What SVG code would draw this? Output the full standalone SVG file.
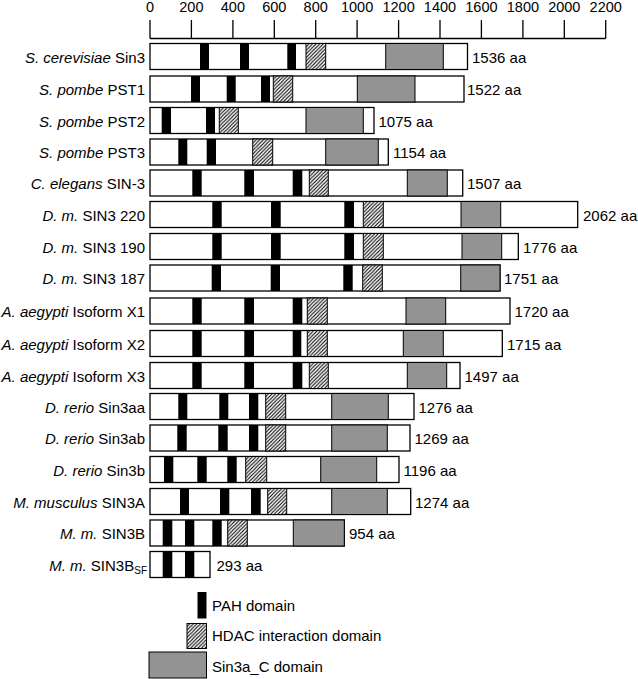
<svg xmlns="http://www.w3.org/2000/svg" width="638" height="679" viewBox="0 0 638 679">
<defs>
<pattern id="hatch" patternUnits="userSpaceOnUse" width="3.6" height="3.6">
<rect width="3.6" height="3.6" fill="#fff"/>
<path d="M-0.9,0.9 l1.8,-1.8 M0,3.6 l3.6,-3.6 M2.7,4.5 l1.8,-1.8" stroke="#000" stroke-width="1.1"/>
</pattern>
</defs>
<style>
text{font-family:"Liberation Sans",Arial,sans-serif;font-size:15px;fill:#000}
.lab{text-anchor:end}
.it{font-style:italic}
.box{fill:#fff;stroke:#000;stroke-width:1.3}
.pah{fill:#000}
.hdac{fill:url(#hatch);stroke:#000;stroke-width:1}
.sin{fill:#939393;stroke:#000;stroke-width:1}
.axis{stroke:#000;stroke-width:1.3;fill:none}
.tick{text-anchor:middle;font-size:14.5px}
</style>

<g id="axis">
<path class="axis" d="M150,38.5 H605.7 M150,20 V38.5 M191.4,20 V38.5 M232.9,20 V38.5 M274.3,20 V38.5 M315.7,20 V38.5 M357.1,20 V38.5 M398.6,20 V38.5 M440,20 V38.5 M481.4,20 V38.5 M522.9,20 V38.5 M564.3,20 V38.5 M605.7,20 V38.5"/>
<text class="tick" x="150" y="12">0</text>
<text class="tick" x="191.4" y="12">200</text>
<text class="tick" x="232.9" y="12">400</text>
<text class="tick" x="274.3" y="12">600</text>
<text class="tick" x="315.7" y="12">800</text>
<text class="tick" x="357.1" y="12">1000</text>
<text class="tick" x="398.6" y="12">1200</text>
<text class="tick" x="440" y="12">1400</text>
<text class="tick" x="481.4" y="12">1600</text>
<text class="tick" x="522.9" y="12">1800</text>
<text class="tick" x="564.3" y="12">2000</text>
<text class="tick" x="605.7" y="12">2200</text>
</g>

<g id="connectors"></g>

<g id="row1">
<text class="lab" x="145" y="62.5"><tspan class="it">S. cerevisiae</tspan> Sin3</text>
<rect class="box" x="150" y="43.5" width="317.5" height="26"/>
<rect class="pah" x="200" y="43.5" width="9" height="26"/>
<rect class="pah" x="240" y="43.5" width="9" height="26"/>
<rect class="pah" x="287.3" y="43.5" width="8.7" height="26"/>
<rect class="hdac" x="306" y="43.5" width="19.7" height="26"/>
<rect class="sin" x="385.7" y="43.5" width="57.6" height="26"/>
<text x="472" y="62.5">1536 aa</text>
</g>

<g id="row2">
<text class="lab" x="145" y="95"><tspan class="it">S. pombe</tspan> PST1</text>
<rect class="box" x="150" y="76" width="314" height="26"/>
<rect class="pah" x="191" y="76" width="9" height="26"/>
<rect class="pah" x="226.7" y="76" width="9" height="26"/>
<rect class="pah" x="261" y="76" width="9" height="26"/>
<rect class="hdac" x="273.3" y="76" width="19.4" height="26"/>
<rect class="sin" x="357.3" y="76" width="57.7" height="26"/>
<text x="467" y="95">1522 aa</text>
</g>

<g id="row3">
<text class="lab" x="145" y="126.5"><tspan class="it">S. pombe</tspan> PST2</text>
<rect class="box" x="150" y="107.5" width="224" height="26"/>
<rect class="pah" x="161.7" y="107.5" width="9.3" height="26"/>
<rect class="pah" x="206" y="107.5" width="9" height="26"/>
<rect class="hdac" x="219.3" y="107.5" width="19" height="26"/>
<rect class="sin" x="306" y="107.5" width="57.3" height="26"/>
<text x="378.5" y="126.5">1075 aa</text>
</g>

<g id="row4">
<text class="lab" x="145" y="158"><tspan class="it">S. pombe</tspan> PST3</text>
<rect class="box" x="150" y="139" width="238.3" height="26"/>
<rect class="pah" x="178.3" y="139" width="9" height="26"/>
<rect class="pah" x="206.7" y="139" width="9.3" height="26"/>
<rect class="hdac" x="252.7" y="139" width="20" height="26"/>
<rect class="sin" x="325.7" y="139" width="52.6" height="26"/>
<text x="393" y="158">1154 aa</text>
</g>

<g id="row5">
<text class="lab" x="145" y="189"><tspan class="it">C. elegans</tspan> SIN-3</text>
<rect class="box" x="150" y="170" width="312.7" height="26"/>
<rect class="pah" x="192.3" y="170" width="9.4" height="26"/>
<rect class="pah" x="244.3" y="170" width="9.7" height="26"/>
<rect class="pah" x="292.7" y="170" width="9.6" height="26"/>
<rect class="hdac" x="309.3" y="170" width="19" height="26"/>
<rect class="sin" x="407.3" y="170" width="40" height="26"/>
<text x="467" y="189">1507 aa</text>
</g>

<g id="row6">
<text class="lab" x="145" y="220.5"><tspan class="it">D. m.</tspan> SIN3 220</text>
<rect class="box" x="150" y="201.5" width="427.7" height="26"/>
<rect class="pah" x="212.3" y="201.5" width="9.4" height="26"/>
<rect class="pah" x="271" y="201.5" width="9.7" height="26"/>
<rect class="pah" x="344.3" y="201.5" width="9.7" height="26"/>
<rect class="hdac" x="363.3" y="201.5" width="20" height="26"/>
<rect class="sin" x="461" y="201.5" width="39.7" height="26"/>
<text x="583" y="220.5">2062 aa</text>
</g>

<g id="row7">
<text class="lab" x="145" y="252.5"><tspan class="it">D. m.</tspan> SIN3 190</text>
<rect class="box" x="150" y="233.5" width="368.3" height="26"/>
<rect class="pah" x="212.3" y="233.5" width="9.4" height="26"/>
<rect class="pah" x="271" y="233.5" width="9.7" height="26"/>
<rect class="pah" x="344.3" y="233.5" width="9.7" height="26"/>
<rect class="hdac" x="363.3" y="233.5" width="20" height="26"/>
<rect class="sin" x="462" y="233.5" width="39.7" height="26"/>
<text x="523" y="252.5">1776 aa</text>
</g>

<g id="row8">
<text class="lab" x="145" y="284"><tspan class="it">D. m.</tspan> SIN3 187</text>
<rect class="box" x="150" y="265" width="350" height="26"/>
<rect class="pah" x="211.7" y="265" width="9.3" height="26"/>
<rect class="pah" x="270.7" y="265" width="9.3" height="26"/>
<rect class="pah" x="343.3" y="265" width="9.4" height="26"/>
<rect class="hdac" x="362.7" y="265" width="19.6" height="26"/>
<rect class="sin" x="460.7" y="265" width="39.3" height="26"/>
<text x="504" y="284">1751 aa</text>
</g>

<g id="row9">
<text class="lab" x="145" y="317"><tspan class="it">A. aegypti</tspan> Isoform X1</text>
<rect class="box" x="150" y="298" width="360" height="26"/>
<rect class="pah" x="192.3" y="298" width="9.4" height="26"/>
<rect class="pah" x="244.3" y="298" width="9.7" height="26"/>
<rect class="pah" x="292.7" y="298" width="9.6" height="26"/>
<rect class="hdac" x="307.3" y="298" width="20" height="26"/>
<rect class="sin" x="406" y="298" width="39.7" height="26"/>
<text x="514.5" y="317">1720 aa</text>
</g>

<g id="row10">
<text class="lab" x="145" y="349.5"><tspan class="it">A. aegypti</tspan> Isoform X2</text>
<rect class="box" x="150" y="330.5" width="352.3" height="26"/>
<rect class="pah" x="192.3" y="330.5" width="9.4" height="26"/>
<rect class="pah" x="244.3" y="330.5" width="9.7" height="26"/>
<rect class="pah" x="292.7" y="330.5" width="8.6" height="26"/>
<rect class="hdac" x="307.3" y="330.5" width="20" height="26"/>
<rect class="sin" x="403.3" y="330.5" width="40" height="26"/>
<text x="507" y="349.5">1715 aa</text>
</g>

<g id="row11">
<text class="lab" x="145" y="381.5"><tspan class="it">A. aegypti</tspan> Isoform X3</text>
<rect class="box" x="150" y="362.5" width="310" height="26"/>
<rect class="pah" x="192.3" y="362.5" width="9.4" height="26"/>
<rect class="pah" x="244.3" y="362.5" width="9.7" height="26"/>
<rect class="pah" x="292.7" y="362.5" width="9.6" height="26"/>
<rect class="hdac" x="309.3" y="362.5" width="19" height="26"/>
<rect class="sin" x="407.3" y="362.5" width="39.4" height="26"/>
<text x="464.5" y="381.5">1497 aa</text>
</g>

<g id="row12">
<text class="lab" x="145" y="412.5"><tspan class="it">D. rerio</tspan> Sin3aa</text>
<rect class="box" x="150" y="393.5" width="264" height="26"/>
<rect class="pah" x="178.3" y="393.5" width="9" height="26"/>
<rect class="pah" x="219.3" y="393.5" width="9" height="26"/>
<rect class="pah" x="249" y="393.5" width="9.3" height="26"/>
<rect class="hdac" x="265.7" y="393.5" width="20" height="26"/>
<rect class="sin" x="331.7" y="393.5" width="56.6" height="26"/>
<text x="418.5" y="412.5">1276 aa</text>
</g>

<g id="row13">
<text class="lab" x="145" y="444"><tspan class="it">D. rerio</tspan> Sin3ab</text>
<rect class="box" x="150" y="425" width="260" height="26"/>
<rect class="pah" x="177.3" y="425" width="9.4" height="26"/>
<rect class="pah" x="218.3" y="425" width="9.4" height="26"/>
<rect class="pah" x="249" y="425" width="9.3" height="26"/>
<rect class="hdac" x="265.7" y="425" width="20" height="26"/>
<rect class="sin" x="331.7" y="425" width="55.6" height="26"/>
<text x="414.5" y="444">1269 aa</text>
</g>

<g id="row14">
<text class="lab" x="145" y="475.5"><tspan class="it">D. rerio</tspan> Sin3b</text>
<rect class="box" x="150" y="456.5" width="249" height="26"/>
<rect class="pah" x="164" y="456.5" width="9.3" height="26"/>
<rect class="pah" x="197.3" y="456.5" width="9.4" height="26"/>
<rect class="pah" x="227.3" y="456.5" width="9.4" height="26"/>
<rect class="hdac" x="245.7" y="456.5" width="21" height="26"/>
<rect class="sin" x="320.7" y="456.5" width="56" height="26"/>
<text x="403.5" y="475.5">1196 aa</text>
</g>

<g id="row15">
<text class="lab" x="145" y="507.5"><tspan class="it">M. musculus</tspan> SIN3A</text>
<rect class="box" x="150" y="488.5" width="260.7" height="26"/>
<rect class="pah" x="180" y="488.5" width="9" height="26"/>
<rect class="pah" x="220" y="488.5" width="9.3" height="26"/>
<rect class="pah" x="251" y="488.5" width="9.7" height="26"/>
<rect class="hdac" x="267.7" y="488.5" width="19" height="26"/>
<rect class="sin" x="331.7" y="488.5" width="55.6" height="26"/>
<text x="415" y="507.5">1274 aa</text>
</g>

<g id="row16">
<text class="lab" x="145" y="539"><tspan class="it">M. m.</tspan> SIN3B</text>
<rect class="box" x="150" y="520" width="194.3" height="26"/>
<rect class="pah" x="162.7" y="520" width="9.6" height="26"/>
<rect class="pah" x="185" y="520" width="9.3" height="26"/>
<rect class="pah" x="212.3" y="520" width="9.4" height="26"/>
<rect class="hdac" x="227.7" y="520" width="19.6" height="26"/>
<rect class="sin" x="293.3" y="520" width="51" height="26"/>
<text x="349" y="539">954 aa</text>
</g>

<g id="row17">
<text class="lab" x="147" y="570.5"><tspan class="it">M. m.</tspan> SIN3B<tspan font-size="10" dy="3">SF</tspan></text>
<rect class="box" x="150" y="551.5" width="60" height="26"/>
<rect class="pah" x="162.7" y="551.5" width="9.6" height="26"/>
<rect class="pah" x="185" y="551.5" width="9.3" height="26"/>
<text x="216.5" y="570.5">293 aa</text>
</g>

<g id="legend">
<rect class="pah" x="197.5" y="592" width="9" height="26.5"/>
<text x="212" y="610.5">PAH domain</text>
<rect class="hdac" x="187" y="623.5" width="19.5" height="25"/>
<text x="212" y="640.5">HDAC interaction domain</text>
<rect class="sin" x="149" y="652" width="57.5" height="26"/>
<text x="212" y="671.5">Sin3a_C domain</text>
</g>
</svg>
